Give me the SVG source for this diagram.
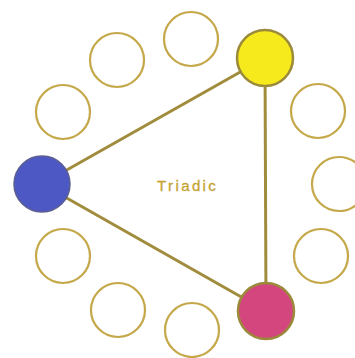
<svg xmlns="http://www.w3.org/2000/svg" width="355" height="358" viewBox="0 0 355 358">
<style>
.ring{fill:none;stroke:#c4a84a;stroke-width:2.2}
.col{stroke:#9a8a3a;stroke-width:2.5}
.edge{stroke:#a08c3c;stroke-width:3;fill:none}
.lbl{font-family:"Liberation Sans",Arial,sans-serif;font-size:15px;fill:#c4a232;letter-spacing:2.4px}
</style>
<rect width="355" height="358" fill="#ffffff"/>
<g id="connectors">
<line class="edge" x1="42" y1="184" x2="265" y2="58"/>
<line class="edge" x1="42" y1="184" x2="266" y2="311"/>
<line class="edge" x1="265" y1="58" x2="266" y2="311"/>
</g>
<g id="c1"><circle class="ring" cx="63" cy="112" r="27"/></g>
<g id="c2"><circle class="ring" cx="117" cy="60" r="27"/></g>
<g id="c3"><circle class="ring" cx="191" cy="39" r="27"/></g>
<g id="yellow"><circle class="col" cx="265" cy="58" r="28" fill="#f6ea1c"/></g>
<g id="c5"><circle class="ring" cx="318" cy="111" r="27"/></g>
<g id="c6"><circle class="ring" cx="339" cy="184" r="27"/></g>
<g id="c7"><circle class="ring" cx="321" cy="256" r="27"/></g>
<g id="magenta"><circle class="col" cx="266" cy="311" r="28" fill="#d4467e"/></g>
<g id="c9"><circle class="ring" cx="192" cy="330" r="27"/></g>
<g id="c10"><circle class="ring" cx="118" cy="310" r="27"/></g>
<g id="c11"><circle class="ring" cx="63" cy="256" r="27"/></g>
<g id="blue"><circle cx="42" cy="184" r="28" fill="#4d58c4" stroke="#5a5e90" stroke-width="1.5"/></g>
<g id="label"><text class="lbl" x="157" y="191" stroke="#c4a232" stroke-width="0.3">Triadic</text></g>
</svg>
